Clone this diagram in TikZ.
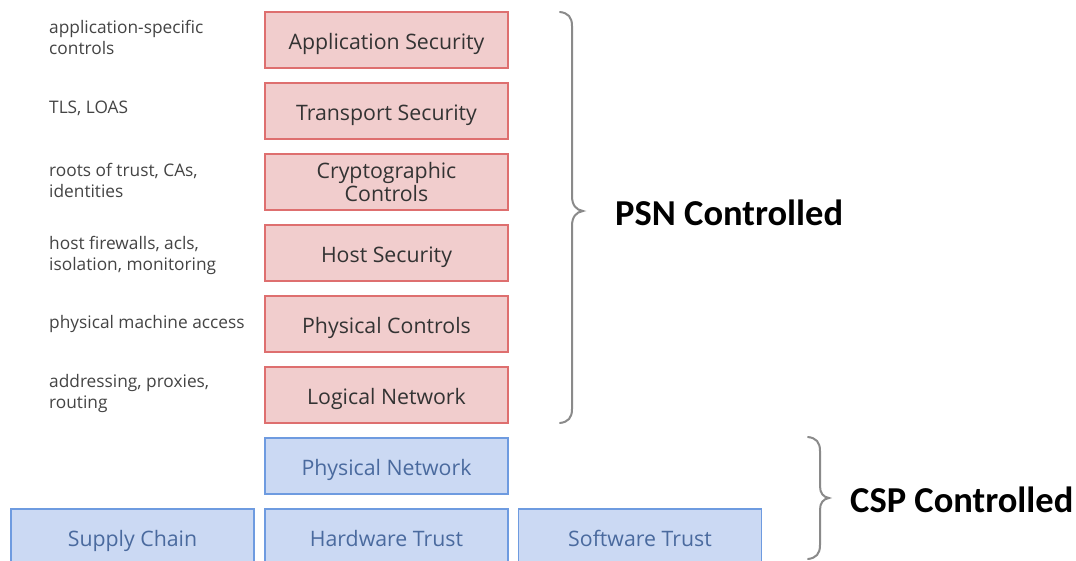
\documentclass[tikz,border=0pt]{standalone}
\usepackage{fontspec}
\setmainfont{Open Sans}
\newfontfamily\labelfont{Carlito}
\definecolor{redfill}{HTML}{F1CDCD}
\definecolor{redline}{HTML}{DE6F6F}
\definecolor{redtext}{HTML}{333333}
\definecolor{bluefill}{HTML}{CBD9F3}
\definecolor{blueline}{HTML}{6E9BE0}
\definecolor{bluetext}{HTML}{4A6A9E}
\definecolor{notetext}{HTML}{444444}
\definecolor{bracegray}{HTML}{8A8A8A}

\begin{document}
\begin{tikzpicture}[x=1pt,y=-1pt,
  layer/.style={draw, line width=1.6pt, minimum width=243pt, minimum height=56pt,
    inner sep=0pt, align=center, font=\fontsize{21.3}{23.5}\selectfont},
  oneline/.style={text height=23pt, text depth=5pt},
  psnbox/.style={layer, draw=redline, fill=redfill, text=redtext},
  psn/.style={psnbox, oneline},
  csp/.style={layer, oneline, draw=blueline, fill=bluefill, text=bluetext},
  note/.style={anchor=west, align=left, inner sep=0pt, text=notetext,
    font=\fontsize{17.3}{21}\selectfont},
  brace/.style={draw=bracegray, line width=2pt, line cap=round},
  owner/.style={anchor=west, inner sep=0pt, text=black,
    font=\labelfont\bfseries\fontsize{36.5}{40}\selectfont}
]
\fill[white] (0,0) rectangle (1076,560);
\useasboundingbox (0,0) rectangle (1076,560);

% stack of layers controlled by the PSN
\node[psn]    (app)   at (386.5,40)  {Application Security};
\node[psn]    (trans) at (386.5,111) {Transport Security};
\node[psnbox] (crypt) at (386.5,182) {Cryptographic\\Controls};
\node[psn]    (host)  at (386.5,253) {Host Security};
\node[psn]    (phys)  at (386.5,324) {Physical Controls};
\node[psn]    (logic) at (386.5,395) {Logical Network};

% layers controlled by the CSP
\node[csp] (pnet)   at (386.5,466) {Physical Network};
\node[csp] (supply) at (132.5,537) {Supply Chain};
\node[csp] (hw)     at (386.5,537) {Hardware Trust};
\node[csp] (sw)     at (640,537)   {Software Trust};

% examples for each layer
\node[note] (appnote)   at (49,37)  {application-specific\\controls};
\node[note] (transnote) at (49,108) {TLS, LOAS};
\node[note] (cryptnote) at (49,180) {roots of trust, CAs,\\identities};
\node[note] (hostnote)  at (49,255) {host firewalls, acls,\\isolation, monitoring};
\node[note] (physnote)  at (49,324) {physical machine access};
\node[note] (logicnote) at (49,393) {addressing, proxies,\\routing};

% braces grouping the layers
\draw[brace] (560,12) .. controls (568,13) and (572,17) .. (572,26)
  -- (572,196) .. controls (572,205) and (576,210) .. (583,211)
  .. controls (576,212) and (572,217) .. (572,226)
  -- (572,409) .. controls (572,418) and (568,422) .. (560,423);
\draw[brace] (808,437) .. controls (816,438) and (820,442) .. (820,451)
  -- (820,486) .. controls (820,493) and (823,497) .. (829,498)
  .. controls (823,499) and (820,503) .. (820,510)
  -- (820,545) .. controls (820,554) and (816,558) .. (808,559);

\node[owner] (psnlabel) at (615,213) {PSN Controlled};
\node[owner] (csplabel) at (850,500) {CSP Controlled};
\end{tikzpicture}
\end{document}
